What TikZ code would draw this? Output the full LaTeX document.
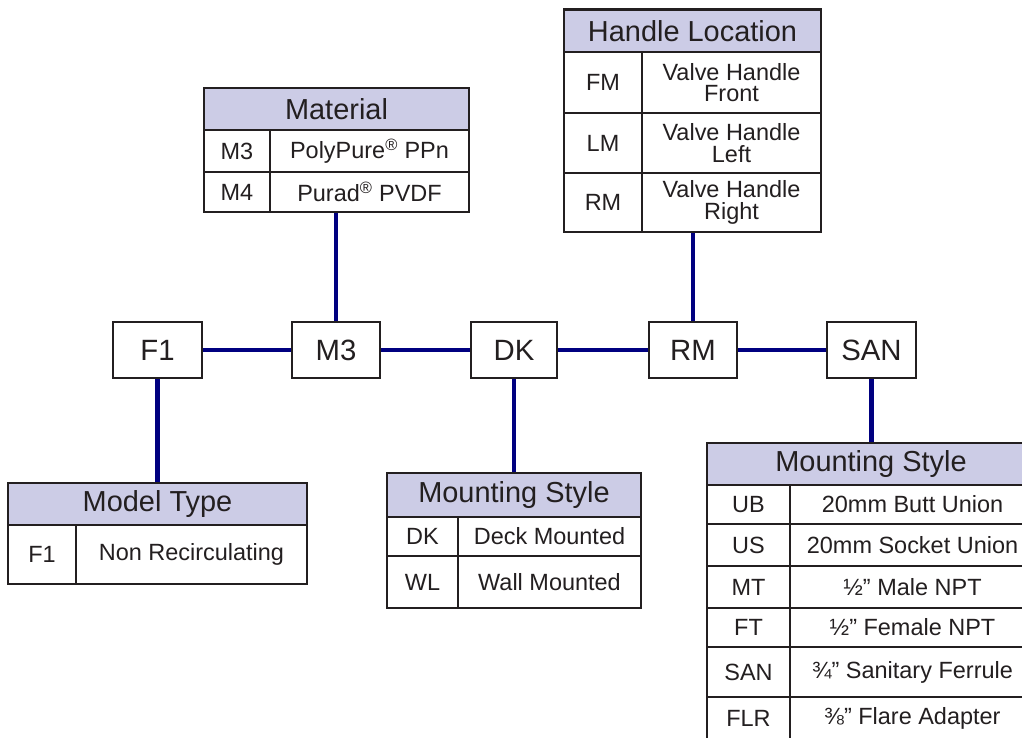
\documentclass[tikz,border=0pt]{standalone}
\usepackage{fontspec}
\setmainfont{Liberation Sans}
\usetikzlibrary{fit,backgrounds}
\definecolor{ink}{HTML}{231F20}
\definecolor{hdr}{HTML}{CCCCE6}
\definecolor{navyc}{HTML}{000080}
\newcommand\tabrow[8]{%
  \node[cellbox,fit={(#2,#5)(#3,#6)},label={[celltext]center:#7}] (#1k) {};
  \node[cellbox,fit={(#3,#5)(#4,#6)},label={[celltext]center:#8}] (#1d) {};}
\begin{document}
\begin{tikzpicture}[x=0.75pt,y=-0.75pt,
  cellbox/.style={draw=ink,line width=1.6pt,fill=white,inner sep=0pt,outer sep=0pt},
  celltext/.style={text=ink,align=center,inner sep=0pt,font=\fontsize{17.6}{16}\selectfont},
  hdrbox/.style={cellbox,fill=hdr},
  hdrtext/.style={text=ink,inner sep=0pt,font=\fontsize{21.7}{24}\selectfont},
  codebox/.style={cellbox},
  codetext/.style={text=ink,inner sep=0pt,font=\fontsize{22}{26}\selectfont},
  tabframe/.style={inner sep=0pt,outer sep=0pt},
  conn/.style={draw=navyc,line width=3.6pt}]
\useasboundingbox (0,0) rectangle (1022,738);
\clip (0,0) rectangle (1022,738);

% main code boxes
\node[codebox,fit={(113,322)(202,378)},label={[codetext]center:F1}] (F1) {};
\node[codebox,fit={(292,322)(380,378)},label={[codetext]center:M3}] (M3) {};
\node[codebox,fit={(471,322)(557,378)},label={[codetext]center:DK}] (DK) {};
\node[codebox,fit={(649,322)(737,378)},label={[codetext]center:RM}] (RM) {};
\node[codebox,fit={(827,322)(916,378)},label={[codetext]center:SAN}] (SAN) {};

% Material table
\node[hdrbox,fit={(204,88)(469,130)},label={[hdrtext]center:Material}] (matH) {};
\tabrow{matA}{204}{270}{469}{130}{172}{M3}{PolyPure\textsuperscript{®} PPn}
\tabrow{matB}{204}{270}{469}{172}{212}{M4}{Purad\textsuperscript{®} PVDF}
\node[tabframe,fit={(204,88)(469,212)}] (matT) {};

% Handle Location table
\node[hdrbox,fit={(564,9.5)(821,52)},label={[hdrtext]center:Handle Location}] (hdlH) {};
\tabrow{hdlA}{564}{642}{821}{52}{113}{FM}{Valve Handle\\Front}
\tabrow{hdlB}{564}{642}{821}{113}{173}{LM}{Valve Handle\\Left}
\tabrow{hdlC}{564}{642}{821}{173}{232}{RM}{Valve Handle\\Right}
\node[tabframe,fit={(564,9.5)(821,232)}] (hdlT) {};

% Model Type table
\node[hdrbox,fit={(8,483)(307,525)},label={[hdrtext]center:Model Type}] (modH) {};
\tabrow{modA}{8}{76}{307}{525}{584}{F1}{Non Recirculating}
\node[tabframe,fit={(8,483)(307,584)}] (modT) {};

% Mounting Style (middle) table
\node[hdrbox,fit={(387,473)(641,517)},label={[hdrtext]center:Mounting Style}] (mntH) {};
\tabrow{mntA}{387}{458}{641}{517}{556}{DK}{Deck Mounted}
\tabrow{mntB}{387}{458}{641}{556}{608}{WL}{Wall Mounted}
\node[tabframe,fit={(387,473)(641,608)}] (mntT) {};

% Mounting Style (right) table
\node[hdrbox,fit={(707,443)(1035,485)},label={[hdrtext]center:Mounting Style}] (conH) {};
\tabrow{conA}{707}{790}{1035}{485}{524}{UB}{20mm Butt Union}
\tabrow{conB}{707}{790}{1035}{524}{566}{US}{20mm Socket Union}
\tabrow{conC}{707}{790}{1035}{566}{608}{MT}{½” Male NPT}
\tabrow{conD}{707}{790}{1035}{608}{647}{FT}{½” Female NPT}
\tabrow{conE}{707}{790}{1035}{647}{697}{SAN}{¾” Sanitary Ferrule}
\tabrow{conF}{707}{790}{1035}{697}{740}{FLR}{⅜” Flare Adapter}
\node[tabframe,fit={(707,443)(1035,740)}] (conT) {};

\begin{pgfonlayer}{background}
\draw[conn] (F1) -- (F1 |- modT.north);
\draw[conn] (M3) -- (M3 |- matT.south);
\draw[conn] (DK) -- (DK |- mntT.north);
\draw[conn] (RM) -- (RM |- hdlT.south);
\draw[conn] (SAN) -- (SAN |- conT.north);
\draw[conn] (F1) -- (M3);
\draw[conn] (M3) -- (DK);
\draw[conn] (DK) -- (RM);
\draw[conn] (RM) -- (SAN);
\end{pgfonlayer}
\end{tikzpicture}
\end{document}
